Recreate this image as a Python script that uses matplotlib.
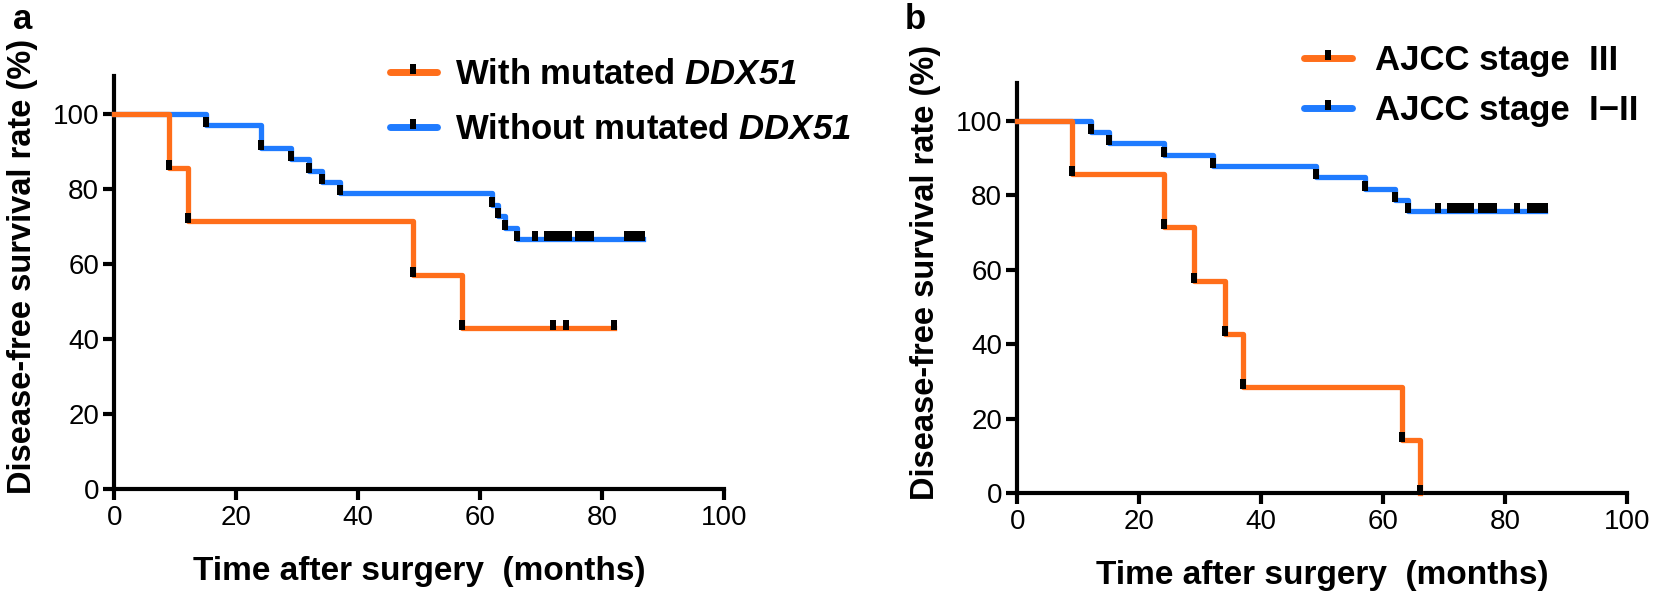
import numpy as np
import matplotlib
matplotlib.use('Agg')
import matplotlib.pyplot as plt
from matplotlib.lines import Line2D
from matplotlib.path import Path

plt.rcParams['font.family'] = ['Liberation Sans', 'DejaVu Sans']
plt.rcParams['mathtext.fontset'] = 'custom'
plt.rcParams['mathtext.it'] = 'Liberation Sans:italic:bold'
plt.rcParams['mathtext.rm'] = 'Liberation Sans:italic:bold'

ORANGE = '#FF6E1A'
BLUE = '#1F7BFF'

## Panel a: DDX51 status (step points, survival %, censored times)
a_mut_t = [0, 9, 12, 49, 57, 82]
a_mut_s = [100, 85.7, 71.4, 57.1, 42.9, 42.9]
a_mut_cens = [72, 74, 82]

a_wt_t = [0, 15, 24, 29, 32, 34, 37, 62, 63, 64, 66, 86.7]
a_wt_s = [100, 97.0, 90.9, 87.9, 84.8, 81.8, 78.8, 75.8, 72.7, 69.7, 66.7, 66.7]
a_wt_cens = [69, 71, 71.7, 72.4, 73.1, 73.8, 74.5, 76, 76.7, 77.4, 78.1,
             84, 84.7, 85.4, 86.1, 86.6]

## Panel b: AJCC stage
b_iii_t = [0, 9, 24, 29, 34, 37, 63, 66]
b_iii_s = [100, 85.7, 71.4, 57.1, 42.9, 28.6, 14.3, 0]
b_iii_cens = []

b_i_t = [0, 12, 15, 24, 32, 49, 57, 62, 64, 86.5]
b_i_s = [100, 97.0, 93.9, 90.9, 87.9, 84.8, 81.8, 78.8, 75.8, 75.8]
b_i_cens = [69, 71, 71.7, 72.4, 73.1, 73.8, 74.4, 76, 76.7, 77.4, 78.1,
            82, 84, 84.7, 85.4, 86.1, 86.5]

x_ticks = [0, 20, 40, 60, 80, 100]
y_ticks = [0, 20, 40, 60, 80, 100]

# small black tick sitting on the curve
tick_mark = Path([(-0.4, -0.3), (0.4, -0.3), (0.4, 1), (-0.4, 1), (-0.4, -0.3)],
                 [Path.MOVETO, Path.LINETO, Path.LINETO, Path.LINETO, Path.CLOSEPOLY])


def level_at(t, s, x):
    i = np.searchsorted(t, x, side='right') - 1
    return np.array(s)[i]


def km(ax, t, s, cens, color):
    ax.step(t, s, where='post', color=color, lw=3.8, clip_on=False, zorder=3)
    # marks at every drop and at censored times
    ev_x = [t[i] for i in range(1, len(t)) if s[i] < s[i - 1]]
    ev_y = [s[i] for i in range(1, len(t)) if s[i] < s[i - 1]]
    ax.plot(ev_x, ev_y, ls='none', marker=tick_mark, ms=11, color='black',
            mew=0, clip_on=False, zorder=4)
    if len(cens):
        ax.plot(cens, level_at(t, s, cens), ls='none', marker=tick_mark, ms=11,
                color='black', mew=0, clip_on=False, zorder=4)


def style(ax):
    ax.set_xlim(0, 100)
    ax.set_ylim(0, 110)
    ax.set_xticks(x_ticks)
    ax.set_yticks(y_ticks)
    for sp in ['top', 'right']:
        ax.spines[sp].set_visible(False)
    for sp in ['left', 'bottom']:
        ax.spines[sp].set_linewidth(3)
    ax.tick_params(direction='out', length=8, width=3, labelsize=20, pad=3)
    ax.set_xlabel('Time after surgery  (months)', fontsize=24, fontweight='bold', labelpad=18)
    ax.set_ylabel('Disease-free survival rate (%)', fontsize=23.5, fontweight='bold')
    ax.yaxis.set_label_coords(-0.125, 0.54)


def handle(color):
    ln = Line2D([], [], color=color, lw=5, solid_capstyle='round')
    mk = Line2D([], [], ls='none', marker=tick_mark, ms=11, color='black', mew=0)
    return (ln, mk)


fig = plt.figure(figsize=(16.57, 5.96), dpi=100)
ax1 = fig.add_axes([0.069, 0.179, 0.368, 0.693])
ax2 = fig.add_axes([0.614, 0.172, 0.368, 0.688])

km(ax1, a_wt_t, a_wt_s, a_wt_cens, BLUE)
km(ax1, a_mut_t, a_mut_s, a_mut_cens, ORANGE)
style(ax1)
ax1.legend([handle(ORANGE), handle(BLUE)],
           ['With mutated $DDX51$', 'Without mutated $DDX51$'],
           loc='upper left', bbox_to_anchor=(0.452, 1.045), frameon=False,
           prop={'size': 25, 'weight': 'bold'}, handlelength=1.35,
           handletextpad=0.52, labelspacing=0.65, borderaxespad=0, borderpad=0)

km(ax2, b_i_t, b_i_s, b_i_cens, BLUE)
km(ax2, b_iii_t, b_iii_s, b_iii_cens, ORANGE)
style(ax2)
ax2.legend([handle(ORANGE), handle(BLUE)],
           ['AJCC stage  III', 'AJCC stage  I\u2212II'],
           loc='upper left', bbox_to_anchor=(0.47, 1.097), frameon=False,
           prop={'size': 25, 'weight': 'bold'}, handlelength=1.38,
           handletextpad=0.66, labelspacing=0.49, borderaxespad=0, borderpad=0)

fig.text(0.008, 0.995, 'a', fontsize=25, fontweight='bold', va='top')
fig.text(0.546, 0.995, 'b', fontsize=25, fontweight='bold', va='top')

fig.savefig('out.png', dpi=100)
